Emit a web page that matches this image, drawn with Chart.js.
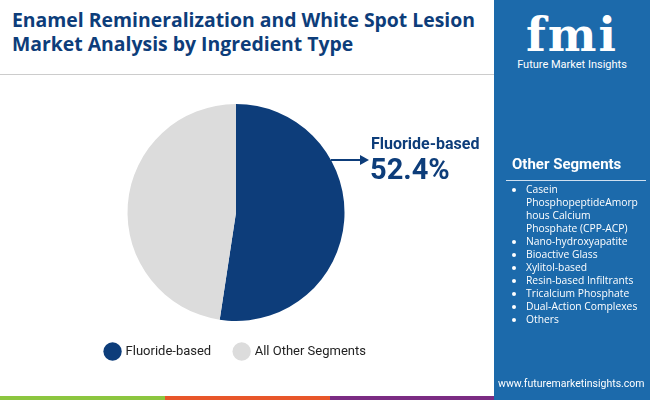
<!DOCTYPE html>
<html><head><meta charset="utf-8">
<script src="https://cdn.jsdelivr.net/npm/chart.js@4"></script>
<style>
body{margin:0;width:650px;height:400px;overflow:hidden;font-family:Roboto,"Open Sans",sans-serif;background:#fff;position:relative}
#title{position:absolute;left:12px;top:8px;font-size:19.4px;font-weight:bold;color:#0d3d7a;line-height:24px;font-family:"Open Sans",Roboto,sans-serif}
#rule{position:absolute;left:0;top:74px;width:494px;height:1px;background:#ccc}
#panel{position:absolute;left:494px;top:0;width:156px;height:396px;background:#1c6aab;color:#fff}
#wrap{position:absolute;left:0;top:96px;width:472px;height:272px}
.bar{position:absolute;top:396px;height:4px}
#ann1{position:absolute;left:371px;top:134px;font-size:16px;font-weight:bold;color:#0d3d7a}
#ann2{position:absolute;left:370px;top:152px;font-size:29px;font-weight:bold;color:#0d3d7a}
#logo{position:absolute;left:0;width:156px;top:12px;text-align:center}
#logo b{font-size:46px;font-family:"DejaVu Serif",serif;letter-spacing:2px;line-height:46px}
#logo div{font-size:11px}
#oth{position:absolute;left:18px;top:155px;font-size:15px;font-weight:bold}
#hr{position:absolute;left:12px;top:180px;width:140px;height:1px;background:#cfe0f0}
ul{position:absolute;left:14px;top:183px;margin:0;padding-left:18px;font-size:10.3px;line-height:13px;width:116px;font-family:"Open Sans",sans-serif;overflow-wrap:anywhere}
#url{position:absolute;left:4px;top:377px;font-size:10.5px}
</style></head><body>
<div id="title">Enamel Remineralization and White Spot Lesion<br>Market Analysis by Ingredient Type</div>
<div id="rule"></div>
<div id="wrap"><canvas id="c"></canvas></div>
<div id="ann1">Fluoride-based</div>
<div id="ann2">52.4%</div>
<div id="panel">
 <div id="logo"><b>fmi</b><div>Future Market Insights</div></div>
 <div id="oth">Other Segments</div><div id="hr"></div>
 <ul id="list"></ul>
 <div id="url">www.futuremarketinsights.com</div>
</div>
<div class="bar" style="left:0;width:165px;background:#8cc63f"></div>
<div class="bar" style="left:165px;width:165px;background:#e8562a"></div>
<div class="bar" style="left:330px;width:164px;background:#7b2c83"></div>
<div class="bar" style="left:494px;width:156px;background:#1c6aab"></div>
<script>
const categories = ['Fluoride-based', 'All Other Segments'];
const shares = [52.4, 47.6];
const colors = ['#0d3d7a', '#dcdcdc'];
const otherSegments = ['Casein PhosphopeptideAmorphous Calcium Phosphate (CPP-ACP)', 'Nano-hydroxyapatite', 'Bioactive Glass', 'Xylitol-based', 'Resin-based Infiltrants', 'Tricalcium Phosphate', 'Dual-Action Complexes', 'Others'];

document.getElementById('list').innerHTML = otherSegments.map(s => `<li>${s}</li>`).join('');

// arrow from pie edge to label
const arrow = {
  id: 'arrow',
  afterDraw(ch) {
    const arc = ch.getDatasetMeta(0).data[0];
    const ctx = ch.ctx;
    const y = 160 - 96;
    const x0 = arc.x + Math.sqrt(arc.outerRadius ** 2 - (arc.y - y) ** 2);
    ctx.save();
    ctx.strokeStyle = '#0d3d7a'; ctx.fillStyle = '#0d3d7a'; ctx.lineWidth = 2;
    ctx.beginPath(); ctx.moveTo(x0, y); ctx.lineTo(362, y); ctx.stroke();
    ctx.beginPath(); ctx.moveTo(369, y); ctx.lineTo(360, y - 5); ctx.lineTo(360, y + 5); ctx.fill();
    ctx.restore();
  }
};

new Chart(document.getElementById('c'), {
  type: 'pie',
  data: { labels: categories, datasets: [{ data: shares, backgroundColor: colors, borderWidth: 0 }] },
  options: {
    responsive: true, maintainAspectRatio: false, animation: false,
    layout: { padding: { top: 8, bottom: 0 } },
    plugins: {
      tooltip: { enabled: false },
      legend: {
        position: 'bottom',
        labels: { usePointStyle: true, pointStyle: 'circle', boxWidth: 18, boxHeight: 18, padding: 24, color: '#222', font: { size: 13, family: 'Roboto' } }
      }
    }
  },
  plugins: [arrow]
});
</script>
</body></html>
